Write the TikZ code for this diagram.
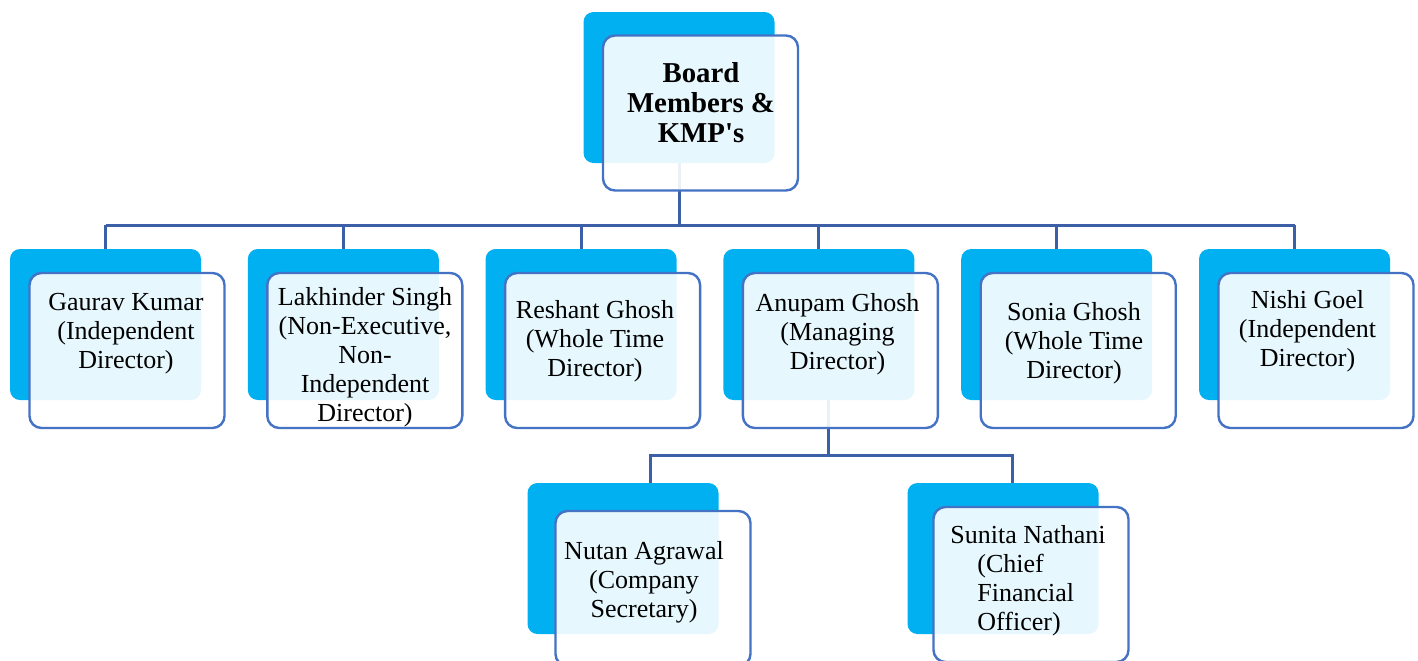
\documentclass[tikz,border=0pt]{standalone}
\usepackage{fontspec}
\setmainfont{Liberation Serif}[Ligatures=TeXOff]
\definecolor{boxblue}{HTML}{00B0F0}
\definecolor{edgeblue}{HTML}{4472C4}
\definecolor{linkblue}{HTML}{3D5FA8}
\tikzset{
  backbox/.style={fill=boxblue, rounded corners=5pt, minimum width=95.5pt, minimum height=75.5pt, inner sep=0pt},
  frontbox/.style={draw=edgeblue, line width=1.2pt, fill=white, fill opacity=0.9, rounded corners=6pt, minimum width=97.5pt, minimum height=77.5pt, inner sep=0pt},
  nametext/.style={align=center, inner sep=0pt, font=\fontsize{13}{14.5}\selectfont},
  link/.style={draw=linkblue, line width=1.5pt}
}
\begin{document}
\begin{tikzpicture}[x=0.5pt, y=-0.5pt]
  \useasboundingbox (0,0) rectangle (1418,660);
  % blue boxes behind
  \node[backbox] (board-b) at (679,87.5) {};
  \foreach \n [count=\i from 0] in {gk,ls,rg,ag,sg,ng} \node[backbox] (\n-b) at (105.5+237.8*\i,324.5) {};
  \node[backbox] (na-b) at (623,558.5) {};
  \node[backbox] (sn-b) at (1003,558.5) {};
  % connectors
  \coordinate (bus1) at (0,225);
  \coordinate (bus2) at (828,455);
  \coordinate (na-in) at ([xshift=13.5pt]na-b.north);
  \coordinate (sn-in) at ([xshift=4.5pt]sn-b.north);
  \draw[link] (board-b.south) -- (board-b.south |- bus1);
  \draw[link] (gk-b.north |- bus1) -- (ng-b.north |- bus1);
  \foreach \n in {gk,ls,rg,ag,sg,ng} \draw[link] (\n-b.north |- bus1) -- (\n-b.north);
  \draw[link] (ag-b.south -| bus2) -- (bus2);
  \draw[link] (na-in) |- (bus2) -| (sn-in);
  % outlined boxes in front
  \node[frontbox] (board) at ([shift={(21.5,25.5)}]board-b.center) {};
  \foreach \n in {gk,ls,rg,ag,sg,ng} \node[frontbox] (\n) at ([shift={(21.5,26)}]\n-b.center) {};
  \node[frontbox] (na) at ([shift={(30,30)}]na-b.center) {};
  \node[frontbox] (sn) at ([shift={(28,26)}]sn-b.center) {};
  % texts
  \node[nametext, font=\bfseries\fontsize{14.4}{15}\selectfont] (board-t) at (701,103) {Board\\Members \&\\KMP's};
  \foreach \n/\x/\y/\t in {gk/126/334/{Gaurav Kumar\\(Independent\\Director)},
      ls/365/357/{Lakhinder Singh\\(Non-Executive,\\Non-\\Independent\\Director)},
      rg/595/341/{Reshant Ghosh\\(Whole Time\\Director)},
      ag/837.5/334/{Anupam Ghosh\\(Managing\\Director)},
      sg/1074/343/{Sonia Ghosh\\(Whole Time\\Director)},
      ng/1307.5/331/{Nishi Goel\\(Independent\\Director)}}
    \node[nametext] (\n-t) at (\x,\y) {\t};
  \node[nametext] (na-t) at (644,582) {Nutan Agrawal\\(Company\\Secretary)};
  \node[nametext, align=left, anchor=west] (sn-t) at (950,581) {Sunita Nathani\\\hspace*{13.5pt}(Chief\\\hspace*{13.5pt}Financial\\\hspace*{13.5pt}Officer)};
\end{tikzpicture}
\end{document}
